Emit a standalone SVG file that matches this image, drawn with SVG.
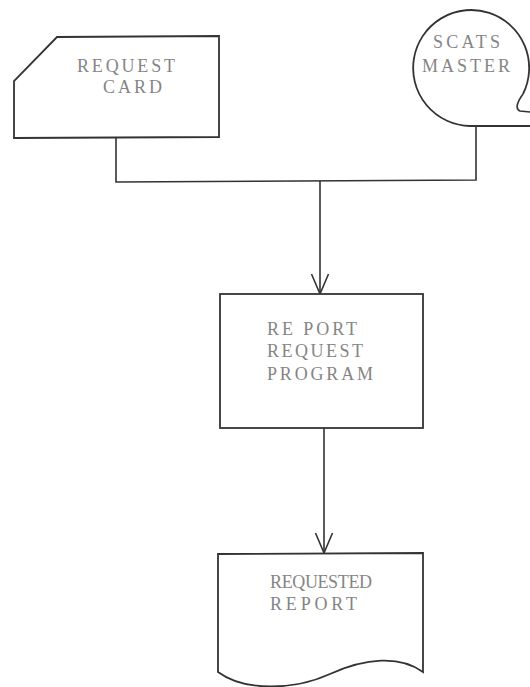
<svg xmlns="http://www.w3.org/2000/svg" width="530" height="687" viewBox="0 0 530 687">
<style>
.shape{fill:#fff;stroke:#333;stroke-width:1.8;stroke-linejoin:miter}
.conn{fill:none;stroke:#333;stroke-width:1.6}
.lbl{font-family:"Liberation Serif","Times New Roman",serif;font-size:18px;fill:#858585}
</style>
<defs>
<marker id="v" markerUnits="userSpaceOnUse" viewBox="-24 -12 28 24" markerWidth="28" markerHeight="24" refX="0" refY="0" orient="auto">
<path d="M-20,-8.5 L0,0 L-20,8.5" fill="none" stroke="#333" stroke-width="1.6"/>
</marker>
</defs>
<rect width="530" height="687" fill="#fff"/>
<g id="connectors">
<polyline class="conn" points="116,138 116,182 476,180 476,127"/>
<line class="conn" x1="320" y1="181" x2="320" y2="294" marker-end="url(#v)"/>
<line class="conn" x1="324" y1="428" x2="324" y2="553" marker-end="url(#v)"/>
</g>
<g id="request-card">
<path class="shape" d="M57,37 L219,36 L219,137 L14,138 L14,81 Z"/>
<text class="lbl" x="77" y="72" textLength="98" lengthAdjust="spacing">REQUEST</text>
<text class="lbl" x="103" y="93" textLength="59" lengthAdjust="spacing">CARD</text>
</g>
<g id="scats-master">
<path class="shape" d="M523,94 A58,58 0 1 0 470,126 L530,126"/>
<path class="conn" d="M523,94 Q513,108 520,111 L530,112"/>
<text class="lbl" x="433" y="48" textLength="67" lengthAdjust="spacing">SCATS</text>
<text class="lbl" x="422" y="72" textLength="88" lengthAdjust="spacing">MASTER</text>
</g>
<g id="report-request-program">
<rect class="shape" x="220" y="294" width="203" height="134"/>
<text class="lbl" x="267" y="335" textLength="90" lengthAdjust="spacing">RE PORT</text>
<text class="lbl" x="267" y="357" textLength="96" lengthAdjust="spacing">REQUEST</text>
<text class="lbl" x="267" y="380" textLength="106" lengthAdjust="spacing">PROGRAM</text>
</g>
<g id="requested-report">
<path class="shape" d="M218,554 L423,553 L423,672 C400,655 365,658 330,674 C295,690 245,692 218,672 Z"/>
<text class="lbl" x="270" y="588" textLength="102" lengthAdjust="spacing">REQUESTED</text>
<text class="lbl" x="270" y="610" textLength="87" lengthAdjust="spacing">REPORT</text>
</g>
</svg>
